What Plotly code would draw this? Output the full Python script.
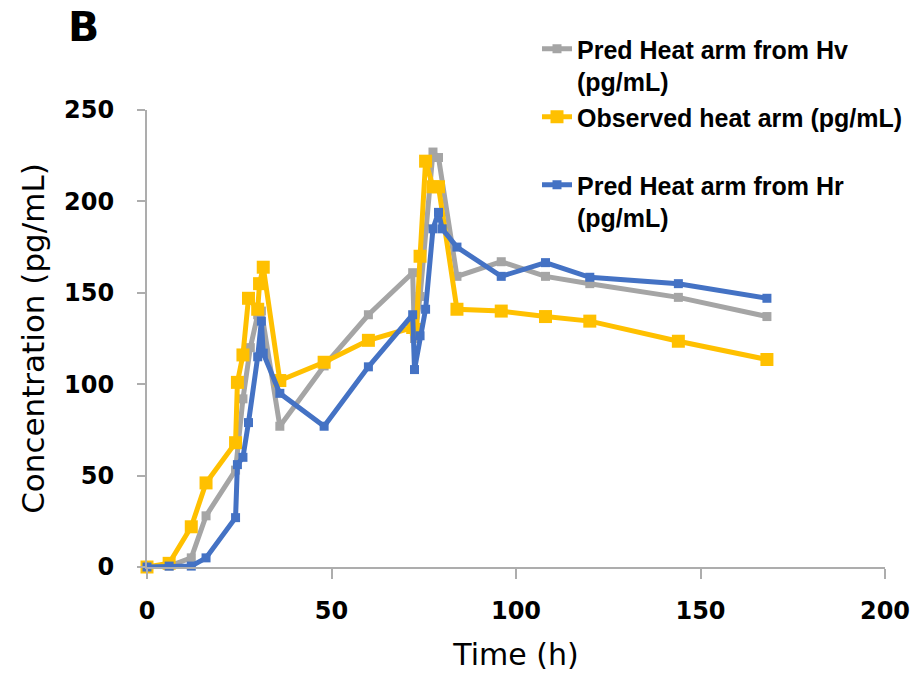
import plotly.graph_objects as go

# Sampling times (h) and concentrations (pg/mL) for each series
t_pred_hv = [0, 6, 12, 16, 24, 26, 28, 30, 31, 36, 48, 60, 72, 72.5, 74, 77.5, 79, 84,
             96, 108, 120, 144, 168]
c_pred_hv = [0, 0.5, 5, 28, 53, 92, 120, 138, 140, 77, 110, 138, 161, 125, 148, 227, 224, 159,
             167, 159, 155, 147.5, 137]

t_obs = [0, 6, 12, 16, 24, 24.5, 26, 27.5, 30, 30.5, 31.5, 36, 48, 60, 72, 73, 74, 75.5,
         77.5, 79, 84, 96, 108, 120, 144, 168]
c_obs = [0, 2, 22, 46, 68, 101, 116, 147, 141, 155, 164, 102, 112, 124, 131, 130, 170, 222,
         208, 208, 141, 140, 137, 134.5, 123.5, 113.5]

t_pred_hr = [0, 6, 12, 16, 24, 24.5, 26, 27.5, 30, 31, 31.5, 36, 48, 60, 72, 72.5, 74, 75.5,
             77.5, 79, 80, 84, 96, 108, 120, 144, 168]
c_pred_hr = [0, 0.5, 0.5, 5, 27, 56, 60, 79, 115, 134.5, 117, 95, 77, 109.5, 138, 108, 126.5,
             141, 185, 194, 185, 175, 159, 166.5, 158.5, 155, 147]

names = ["Pred Heat arm from Hv<br>(pg/mL)",
         "Observed heat arm (pg/mL)<br> ",
         "Pred Heat arm from Hr<br>(pg/mL)"]
colors = ["#A5A5A5", "#FFC000", "#4472C4"]
marker_sizes = [9, 13, 9]

x_ticks = [0, 50, 100, 150, 200]
y_ticks = [0, 50, 100, 150, 200, 250]

BOLD = "DejaVu Sans"
fig = go.Figure()
for t, c, name, col, ms in zip([t_pred_hv, t_obs, t_pred_hr],
                               [c_pred_hv, c_obs, c_pred_hr],
                               names, colors, marker_sizes):
    fig.add_trace(go.Scatter(
        x=t, y=c, name=name, mode="lines+markers",
        line=dict(color=col, width=5),
        marker=dict(symbol="square", size=ms, color=col),
        cliponaxis=False,
    ))

axis_common = dict(
    showgrid=False, zeroline=False, showline=True, linecolor="#ADADAD", linewidth=2,
    ticks="outside", tickcolor="#ADADAD", tickwidth=2,
    tickfont=dict(family=BOLD, size=24, color="black", weight="bold"),
)
fig.update_xaxes(range=[0, 200], tickvals=x_ticks, ticklen=10, ticklabelstandoff=11,
                 title=dict(text="Time (h)", font=dict(family="DejaVu Sans", size=30, color="black"),
                            standoff=20),
                 **axis_common)
fig.update_yaxes(range=[0, 250], tickvals=y_ticks, ticklen=8, ticklabelstandoff=18,
                 title=dict(text="Concentration (pg/mL)",
                            font=dict(family="DejaVu Sans", size=31, color="black"),
                            standoff=10),
                 **axis_common)

fig.update_layout(
    width=924, height=675,
    margin=dict(l=146.5, r=39, t=110, b=108, autoexpand=False),
    paper_bgcolor="white", plot_bgcolor="white",
    title=dict(text="<b>B</b>", x=68 / 924, xanchor="left", y=1 - 27 / 675, yanchor="middle",
               font=dict(family=BOLD, size=41, color="black")),
    showlegend=True,
    legend=dict(
        xref="container", yref="container",
        x=537 / 924, xanchor="left", y=1 - 26 / 675, yanchor="top",
        font=dict(family="Liberation Sans", size=25, color="black", weight="bold"),
        valign="top", bgcolor="rgba(0,0,0,0)", tracegroupgap=0,
    ),
)

fig.write_html("out.html")
